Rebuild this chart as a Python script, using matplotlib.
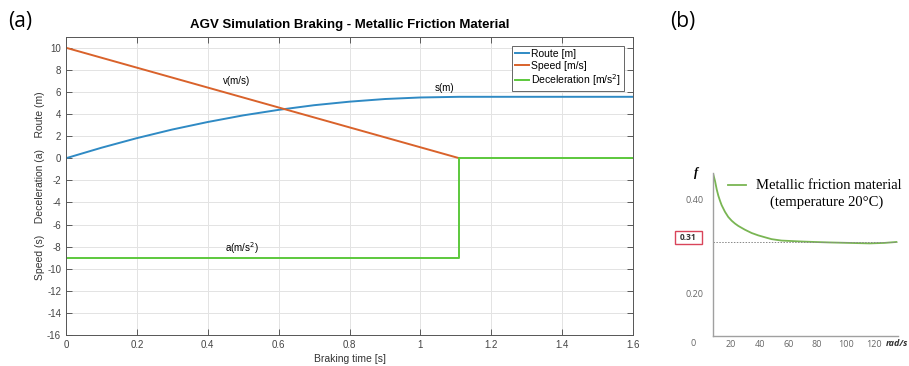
import numpy as np
import matplotlib.pyplot as plt
from matplotlib.patches import Rectangle

plt.rcParams['axes.unicode_minus'] = False

# braking simulation, metallic friction material
t = [0.0, 0.1, 0.2, 0.3, 0.4, 0.5, 0.6, 0.7, 0.8, 0.9, 1.0, 1.11, 1.6]
route = [0.0, 0.95, 1.82, 2.6, 3.28, 3.88, 4.38, 4.8, 5.12, 5.36, 5.5, 5.56, 5.56]
t_speed = [0.0, 1.11, 1.11]
speed = [10.0, 0.0, 0.0]
t_dec = [0.0, 1.11, 1.11, 1.6]
decel = [-9.0, -9.0, 0.0, 0.0]

# friction coefficient vs. angular speed
omega = [7.8, 9.0, 10.2, 11.3, 12.5, 13.6, 15.9, 18.2, 20.6, 22.9, 25.2, 29.8, 34.5,
         39.1, 43.7, 48.4, 55.3, 62.3, 69.3, 78.4, 88.8, 102.7, 116.6, 127.0, 135.4]
fric = [0.453, 0.439, 0.421, 0.408, 0.397, 0.388, 0.374, 0.363, 0.355, 0.349, 0.344, 0.336, 0.329,
        0.324, 0.320, 0.316, 0.313, 0.312, 0.311, 0.310, 0.309, 0.308, 0.307, 0.308, 0.310]
f_ref = 0.31

c_route = '#2f8ac4'
c_speed = '#d9622b'
c_dec = '#5cc83c'

fig = plt.figure(figsize=(9.09, 3.66), dpi=100)

# ---- panel (a) ----
ax = fig.add_axes([0.0726, 0.0847, 0.6238, 0.8150])
ax.plot(t, route, color=c_route, lw=1.4, label='Route [m]')
ax.plot(t_speed, speed, color=c_speed, lw=1.4, label='Speed [m/s]')
ax.plot(t_dec, decel, color=c_dec, lw=1.4, label='Deceleration [m/s$^2$]')
ax.set_xlim(0, 1.6)
ax.set_ylim(-16, 11)
ax.set_xticks(np.arange(0, 1.61, 0.2))
ax.set_xticklabels(['0', '0.2', '0.4', '0.6', '0.8', '1', '1.2', '1.4', '1.6'])
ax.set_yticks(np.arange(-16, 11, 2))
ax.grid(True, color='#e3e3e3', lw=0.7)
ax.tick_params(direction='in', top=True, right=True, length=4, width=0.6,
               labelsize=7, colors='#444444')
for sp in ax.spines.values():
    sp.set_color('#555555')
    sp.set_linewidth(0.7)
lab_font = dict(family='Liberation Sans', color='#333333')
for lbl in ax.get_xticklabels() + ax.get_yticklabels():
    lbl.set_family('Liberation Sans')
ax.set_xlabel('Braking time [s]', fontsize=7.5, labelpad=3, **lab_font)
ax.set_ylabel('Speed (s)    Deceleration (a)    Route (m)', fontsize=7.5, labelpad=1.5, **lab_font)
ax.set_title('AGV Simulation Braking - Metallic Friction Material', fontsize=9.5,
             fontweight='bold', family='Liberation Sans', pad=6)
ax.text(0.48, 7.0, 'v(m/s)', fontsize=7, ha='center', va='center', family='Liberation Sans')
ax.text(1.067, 6.4, 's(m)', fontsize=7, ha='center', va='center', family='Liberation Sans')
ax.text(0.497, -8.15, 'a(m/s$^2$)', fontsize=7, ha='center', va='center', family='Liberation Sans')
leg = ax.legend(loc='upper right', bbox_to_anchor=(0.9935, 0.9866),
                handlelength=1.3, handletextpad=0.2, borderpad=0.3, labelspacing=0.15,
                fancybox=False, framealpha=1, edgecolor='#666666',
                prop={'family': 'Liberation Sans', 'size': 7.5})
leg.get_frame().set_linewidth(0.7)

fig.text(0.022, 0.94, '(a)', fontsize=15, family='Open Sans', ha='center', va='center')
fig.text(0.751, 0.94, '(b)', fontsize=15, family='Open Sans', ha='center', va='center')

# ---- panel (b) ----
bx = fig.add_axes([0.7844, 0.082, 0.2035, 0.4453])
bx.plot(omega, fric, color='#79b553', lw=1.3)
bx.axhline(f_ref, xmax=(135.5 - 7.6) / (136.5 - 7.6), color='#888888', lw=0.7, ls=(0, (1.5, 1.5)))
bx.set_xlim(7.6, 136.5)
bx.set_ylim(0.111, 0.456)
bx.set_xticks([20, 40, 60, 80, 100, 120])
bx.set_yticks([0.20, 0.40])
bx.set_yticklabels(['0.20', '0.40'])
bx.tick_params(length=0, labelsize=6.5, colors='#666666')
bx.tick_params(axis='y', pad=7)
bx.tick_params(axis='x', pad=3)
for lbl in bx.get_xticklabels() + bx.get_yticklabels():
    lbl.set_family('Open Sans')
for s in ['top', 'right']:
    bx.spines[s].set_visible(False)
for s in ['left', 'bottom']:
    bx.spines[s].set_color('#a0a0a0')
    bx.spines[s].set_linewidth(1.0)
bx.text(-0.11, -0.02, '0', transform=bx.transAxes, fontsize=6.5, color='#666666',
        family='Open Sans', ha='center', va='top')
bx.text(-0.09, 1.0, 'f', transform=bx.transAxes, fontsize=9, fontweight='bold',
        fontstyle='italic', family='Liberation Serif', ha='center', va='center')
bx.text(0.935, -0.02, 'rad/s', transform=bx.transAxes, fontsize=6.5, fontweight='bold',
        fontstyle='italic', family='Open Sans', color='#333333', ha='left', va='top')
bx.text(-0.132, f_ref + 0.009, str(f_ref), transform=bx.get_yaxis_transform(), fontsize=6,
        fontweight='bold', family='Open Sans', color='#333333', ha='center', va='center')
bx.add_patch(Rectangle((-0.205, f_ref - 0.004), 0.145, 0.027, transform=bx.get_yaxis_transform(),
                       fill=False, edgecolor='#d9445a', lw=1.0, clip_on=False))
bx.plot([0.081, 0.178], [0.926, 0.926], transform=bx.transAxes, color='#79b553', lw=1.3)
bx.text(0.232, 0.926, 'Metallic friction material', transform=bx.transAxes, fontsize=10.5,
        family='Liberation Serif', ha='left', va='center')
bx.text(0.616, 0.822, '(temperature 20\u00b0C)', transform=bx.transAxes, fontsize=10.5,
        family='Liberation Serif', ha='center', va='center')

fig.savefig('out.png', dpi=100)
